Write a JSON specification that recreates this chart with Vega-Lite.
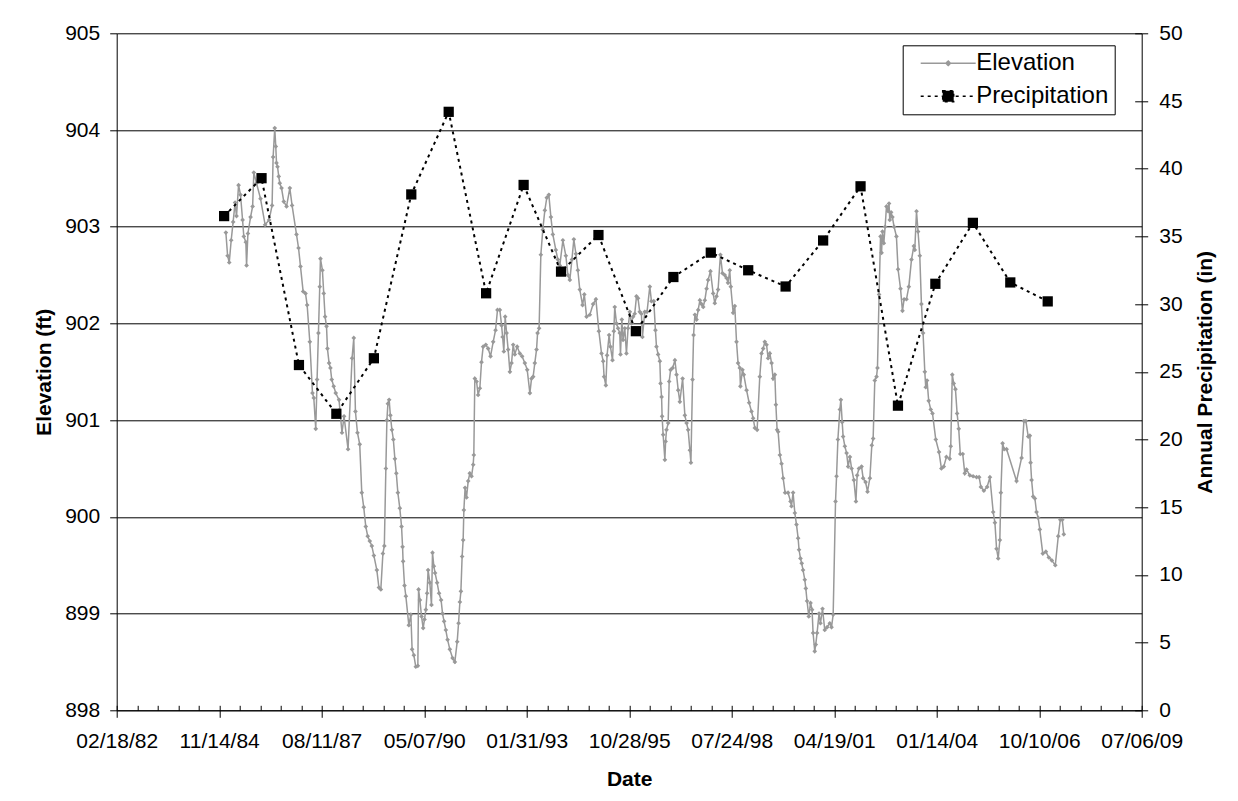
{
  "$schema": "https://vega.github.io/schema/vega-lite/v6.json",
  "width": 1025,
  "height": 677,
  "autosize": {"type": "none"},
  "padding": {"left": 116.7, "top": 33.3, "right": 96.3, "bottom": 90.7},
  "background": "white",
  "config": {
    "font": "Liberation Sans",
    "view": {"stroke": null},
    "axis": {
      "labelFont": "Liberation Sans", "titleFont": "Liberation Sans",
      "labelFontSize": 21, "titleFontSize": 21, "titleFontWeight": "bold",
      "labelColor": "black", "titleColor": "black",
      "domainColor": "black", "tickColor": "black", "gridColor": "black",
      "domainWidth": 1, "tickWidth": 1, "gridWidth": 1, "labelFlush": false, "labelOverlap": false
    }
  },
  "datasets": {
    "precip": [
      {"d":"1985-01-01","p":36.5},{"d":"1986-01-01","p":39.3},{"d":"1987-01-01","p":25.5},{"d":"1988-01-01","p":21.9},
      {"d":"1989-01-01","p":26.0},{"d":"1990-01-01","p":38.1},{"d":"1991-01-01","p":44.2},{"d":"1992-01-01","p":30.8},
      {"d":"1993-01-01","p":38.8},{"d":"1994-01-01","p":32.4},{"d":"1995-01-01","p":35.1},{"d":"1996-01-01","p":28.0},
      {"d":"1997-01-01","p":32.0},{"d":"1998-01-01","p":33.8},{"d":"1999-01-01","p":32.5},{"d":"2000-01-01","p":31.3},
      {"d":"2001-01-01","p":34.7},{"d":"2002-01-01","p":38.7},{"d":"2003-01-01","p":22.5},{"d":"2004-01-01","p":31.5},
      {"d":"2005-01-01","p":36.0},{"d":"2006-01-01","p":31.6},{"d":"2007-01-01","p":30.2}
    ],
    "elev": [
      {"d":"1985-01-18","e":902.94},{"d":"1985-02-04","e":902.70},{"d":"1985-02-20","e":902.63},{"d":"1985-03-11","e":902.86},
      {"d":"1985-03-30","e":903.05},{"d":"1985-04-18","e":903.25},{"d":"1985-05-02","e":903.11},{"d":"1985-05-22","e":903.43},
      {"d":"1985-06-10","e":903.33},{"d":"1985-06-30","e":903.07},{"d":"1985-07-12","e":902.90},{"d":"1985-08-01","e":902.84},
      {"d":"1985-08-08","e":902.60},{"d":"1985-08-21","e":902.93},{"d":"1985-09-16","e":903.10},{"d":"1985-10-06","e":903.21},
      {"d":"1985-10-18","e":903.56},{"d":"1985-11-13","e":903.45},{"d":"1985-12-22","e":903.29},{"d":"1986-02-05","e":903.02},
      {"d":"1986-03-16","e":903.07},{"d":"1986-04-14","e":903.22},{"d":"1986-04-24","e":903.72},{"d":"1986-05-10","e":904.02},
      {"d":"1986-05-20","e":903.83},{"d":"1986-05-27","e":903.66},{"d":"1986-06-06","e":903.62},{"d":"1986-06-18","e":903.52},
      {"d":"1986-06-28","e":903.45},{"d":"1986-07-15","e":903.40},{"d":"1986-08-06","e":903.26},{"d":"1986-09-02","e":903.21},
      {"d":"1986-10-04","e":903.40},{"d":"1986-10-26","e":903.22},{"d":"1986-12-08","e":902.92},{"d":"1986-12-28","e":902.78},
      {"d":"1987-01-16","e":902.59},{"d":"1987-02-11","e":902.33},{"d":"1987-03-06","e":902.31},{"d":"1987-03-22","e":902.19},
      {"d":"1987-04-17","e":901.81},{"d":"1987-05-13","e":901.28},{"d":"1987-05-26","e":901.23},{"d":"1987-06-14","e":900.91},
      {"d":"1987-06-27","e":901.42},{"d":"1987-07-10","e":901.90},{"d":"1987-07-23","e":902.38},{"d":"1987-07-30","e":902.67},
      {"d":"1987-08-18","e":902.55},{"d":"1987-08-31","e":902.31},{"d":"1987-09-13","e":902.07},{"d":"1987-09-27","e":901.97},
      {"d":"1987-10-06","e":901.74},{"d":"1987-10-22","e":901.59},{"d":"1987-11-04","e":901.54},{"d":"1987-11-17","e":901.42},
      {"d":"1987-12-06","e":901.35},{"d":"1987-12-26","e":901.28},{"d":"1988-01-27","e":901.21},{"d":"1988-02-25","e":900.87},
      {"d":"1988-03-16","e":901.04},{"d":"1988-04-24","e":900.70},{"d":"1988-06-02","e":901.64},{"d":"1988-06-19","e":901.85},
      {"d":"1988-07-05","e":901.09},{"d":"1988-07-25","e":900.87},{"d":"1988-08-16","e":900.75},{"d":"1988-09-05","e":900.25},
      {"d":"1988-09-24","e":900.10},{"d":"1988-10-14","e":899.90},{"d":"1988-11-02","e":899.80},{"d":"1988-11-22","e":899.75},
      {"d":"1988-12-12","e":899.70},{"d":"1989-01-01","e":899.60},{"d":"1989-01-30","e":899.45},{"d":"1989-02-19","e":899.27},
      {"d":"1989-03-10","e":899.25},{"d":"1989-03-30","e":899.62},{"d":"1989-04-13","e":899.70},{"d":"1989-04-28","e":900.50},
      {"d":"1989-05-08","e":901.00},{"d":"1989-05-18","e":901.17},{"d":"1989-05-30","e":901.21},{"d":"1989-06-11","e":901.05},
      {"d":"1989-06-26","e":900.90},{"d":"1989-07-10","e":900.80},{"d":"1989-07-25","e":900.60},{"d":"1989-08-08","e":900.45},
      {"d":"1989-08-23","e":900.25},{"d":"1989-09-11","e":900.09},{"d":"1989-09-28","e":899.90},{"d":"1989-10-08","e":899.69},
      {"d":"1989-10-13","e":899.54},{"d":"1989-10-27","e":899.29},{"d":"1989-11-09","e":899.18},{"d":"1989-12-08","e":898.88},
      {"d":"1989-12-28","e":898.99},{"d":"1990-01-09","e":898.63},{"d":"1990-01-26","e":898.57},{"d":"1990-02-14","e":898.45},
      {"d":"1990-03-06","e":898.46},{"d":"1990-03-13","e":899.25},{"d":"1990-03-26","e":899.14},{"d":"1990-04-11","e":898.97},
      {"d":"1990-04-27","e":898.85},{"d":"1990-05-10","e":898.94},{"d":"1990-05-23","e":899.04},{"d":"1990-06-04","e":899.21},
      {"d":"1990-06-14","e":899.45},{"d":"1990-07-01","e":899.32},{"d":"1990-07-17","e":899.09},{"d":"1990-07-27","e":899.63},
      {"d":"1990-08-09","e":899.49},{"d":"1990-08-21","e":899.42},{"d":"1990-09-10","e":899.32},{"d":"1990-09-29","e":899.21},
      {"d":"1990-10-19","e":899.14},{"d":"1990-11-02","e":899.00},{"d":"1990-11-17","e":898.92},{"d":"1990-12-04","e":898.83},
      {"d":"1990-12-21","e":898.73},{"d":"1991-01-12","e":898.63},{"d":"1991-02-08","e":898.54},{"d":"1991-03-02","e":898.50},
      {"d":"1991-03-25","e":898.71},{"d":"1991-04-07","e":898.90},{"d":"1991-04-20","e":899.12},{"d":"1991-04-30","e":899.23},
      {"d":"1991-05-12","e":899.59},{"d":"1991-05-22","e":899.76},{"d":"1991-05-29","e":900.07},{"d":"1991-06-10","e":900.30},
      {"d":"1991-06-24","e":900.20},{"d":"1991-07-10","e":900.37},{"d":"1991-07-26","e":900.45},{"d":"1991-08-12","e":900.42},
      {"d":"1991-08-28","e":900.54},{"d":"1991-09-03","e":900.64},{"d":"1991-09-13","e":901.43},{"d":"1991-09-30","e":901.40},
      {"d":"1991-10-15","e":901.26},{"d":"1991-11-01","e":901.33},{"d":"1991-11-17","e":901.60},{"d":"1991-12-03","e":901.76},
      {"d":"1991-12-29","e":901.78},{"d":"1992-01-21","e":901.74},{"d":"1992-02-13","e":901.66},{"d":"1992-03-10","e":901.81},
      {"d":"1992-04-02","e":901.93},{"d":"1992-04-21","e":902.14},{"d":"1992-05-14","e":902.14},{"d":"1992-05-31","e":901.98},
      {"d":"1992-06-10","e":901.86},{"d":"1992-06-22","e":901.71},{"d":"1992-07-05","e":902.07},{"d":"1992-07-19","e":901.90},
      {"d":"1992-08-03","e":901.73},{"d":"1992-08-20","e":901.50},{"d":"1992-09-05","e":901.59},{"d":"1992-09-21","e":901.78},
      {"d":"1992-10-07","e":901.68},{"d":"1992-10-30","e":901.76},{"d":"1992-11-25","e":901.69},{"d":"1992-12-17","e":901.66},
      {"d":"1993-01-13","e":901.59},{"d":"1993-02-05","e":901.52},{"d":"1993-03-03","e":901.28},{"d":"1993-03-19","e":901.43},
      {"d":"1993-04-04","e":901.45},{"d":"1993-04-20","e":901.59},{"d":"1993-05-07","e":901.73},{"d":"1993-05-17","e":901.90},
      {"d":"1993-06-01","e":901.95},{"d":"1993-06-18","e":902.71},{"d":"1993-07-07","e":902.97},{"d":"1993-07-27","e":903.17},
      {"d":"1993-08-15","e":903.30},{"d":"1993-09-04","e":903.33},{"d":"1993-09-24","e":903.10},{"d":"1993-10-13","e":902.92},
      {"d":"1993-11-11","e":902.76},{"d":"1993-12-01","e":902.66},{"d":"1993-12-20","e":902.60},{"d":"1994-01-19","e":902.86},
      {"d":"1994-02-17","e":902.70},{"d":"1994-03-09","e":902.50},{"d":"1994-03-28","e":902.45},{"d":"1994-04-17","e":902.66},
      {"d":"1994-05-06","e":902.87},{"d":"1994-05-26","e":902.72},{"d":"1994-06-14","e":902.55},{"d":"1994-07-03","e":902.35},
      {"d":"1994-07-30","e":902.19},{"d":"1994-08-16","e":902.30},{"d":"1994-09-07","e":902.07},{"d":"1994-10-09","e":902.09},
      {"d":"1994-11-10","e":902.20},{"d":"1994-12-07","e":902.25},{"d":"1995-01-05","e":901.92},{"d":"1995-01-31","e":901.69},
      {"d":"1995-02-16","e":901.61},{"d":"1995-02-25","e":901.45},{"d":"1995-03-14","e":901.36},{"d":"1995-03-26","e":901.67},
      {"d":"1995-04-15","e":901.88},{"d":"1995-04-28","e":901.76},{"d":"1995-05-18","e":901.62},{"d":"1995-05-31","e":901.92},
      {"d":"1995-06-09","e":902.17},{"d":"1995-06-26","e":902.00},{"d":"1995-07-11","e":901.95},{"d":"1995-07-28","e":901.90},
      {"d":"1995-08-04","e":901.68},{"d":"1995-08-17","e":902.04},{"d":"1995-08-29","e":901.83},{"d":"1995-09-15","e":901.95},
      {"d":"1995-10-01","e":901.69},{"d":"1995-10-17","e":901.95},{"d":"1995-11-03","e":902.12},{"d":"1995-11-19","e":902.00},
      {"d":"1995-12-05","e":902.07},{"d":"1995-12-21","e":902.10},{"d":"1996-01-07","e":902.28},{"d":"1996-01-22","e":902.26},
      {"d":"1996-02-08","e":902.12},{"d":"1996-02-24","e":902.10},{"d":"1996-03-05","e":901.86},{"d":"1996-03-28","e":902.12},
      {"d":"1996-04-19","e":902.12},{"d":"1996-05-16","e":902.38},{"d":"1996-06-01","e":902.23},{"d":"1996-06-24","e":902.23},
      {"d":"1996-07-10","e":901.93},{"d":"1996-07-20","e":901.76},{"d":"1996-08-05","e":901.68},{"d":"1996-08-22","e":901.61},
      {"d":"1996-08-29","e":901.38},{"d":"1996-09-08","e":901.24},{"d":"1996-09-13","e":901.04},{"d":"1996-09-23","e":900.85},
      {"d":"1996-10-10","e":900.59},{"d":"1996-10-17","e":900.78},{"d":"1996-10-26","e":900.90},{"d":"1996-11-11","e":900.97},
      {"d":"1996-11-21","e":901.40},{"d":"1996-12-05","e":901.52},{"d":"1996-12-25","e":901.54},{"d":"1997-01-16","e":901.62},
      {"d":"1997-02-01","e":901.47},{"d":"1997-02-17","e":901.31},{"d":"1997-03-05","e":901.19},{"d":"1997-04-01","e":901.43},
      {"d":"1997-04-23","e":901.05},{"d":"1997-05-10","e":900.97},{"d":"1997-05-25","e":900.90},{"d":"1997-06-11","e":900.69},
      {"d":"1997-06-21","e":900.56},{"d":"1997-07-07","e":901.42},{"d":"1997-07-17","e":901.88},{"d":"1997-07-30","e":902.09},
      {"d":"1997-08-15","e":902.04},{"d":"1997-08-31","e":902.14},{"d":"1997-09-17","e":902.24},{"d":"1997-10-03","e":902.20},
      {"d":"1997-10-19","e":902.17},{"d":"1997-11-04","e":902.24},{"d":"1997-11-21","e":902.36},{"d":"1997-12-06","e":902.45},
      {"d":"1997-12-29","e":902.54},{"d":"1998-01-24","e":902.31},{"d":"1998-02-09","e":902.21},{"d":"1998-02-26","e":902.28},
      {"d":"1998-03-13","e":902.35},{"d":"1998-04-05","e":902.71},{"d":"1998-04-25","e":902.52},{"d":"1998-05-17","e":902.50},
      {"d":"1998-06-03","e":902.47},{"d":"1998-06-18","e":902.42},{"d":"1998-07-05","e":902.55},{"d":"1998-07-15","e":902.38},
      {"d":"1998-08-07","e":902.11},{"d":"1998-08-23","e":902.18},{"d":"1998-09-09","e":901.81},{"d":"1998-09-24","e":901.59},
      {"d":"1998-10-11","e":901.54},{"d":"1998-10-17","e":901.35},{"d":"1998-11-06","e":901.52},{"d":"1998-11-19","e":901.47},
      {"d":"1998-12-16","e":901.31},{"d":"1999-01-10","e":901.18},{"d":"1999-02-02","e":901.09},{"d":"1999-02-18","e":901.02},
      {"d":"1999-03-07","e":900.92},{"d":"1999-03-29","e":900.90},{"d":"1999-04-24","e":901.45},{"d":"1999-05-11","e":901.69},
      {"d":"1999-05-27","e":901.74},{"d":"1999-06-12","e":901.81},{"d":"1999-06-29","e":901.78},{"d":"1999-07-14","e":901.64},
      {"d":"1999-07-31","e":901.69},{"d":"1999-08-17","e":901.59},{"d":"1999-09-01","e":901.43},{"d":"1999-09-18","e":901.47},
      {"d":"1999-09-28","e":901.16},{"d":"1999-10-10","e":900.90},{"d":"1999-10-20","e":900.88},{"d":"1999-11-06","e":900.64},
      {"d":"1999-11-22","e":900.55},{"d":"1999-12-08","e":900.40},{"d":"1999-12-27","e":900.25},{"d":"2000-01-25","e":900.25},
      {"d":"2000-02-18","e":900.16},{"d":"2000-02-27","e":900.11},{"d":"2000-03-14","e":900.25},{"d":"2000-03-31","e":900.04},
      {"d":"2000-04-16","e":899.92},{"d":"2000-05-02","e":899.78},{"d":"2000-05-11","e":899.66},{"d":"2000-05-25","e":899.57},
      {"d":"2000-06-06","e":899.52},{"d":"2000-06-19","e":899.45},{"d":"2000-07-06","e":899.35},{"d":"2000-07-16","e":899.26},
      {"d":"2000-07-28","e":899.13},{"d":"2000-08-14","e":898.97},{"d":"2000-08-31","e":899.11},{"d":"2000-09-15","e":899.04},
      {"d":"2000-09-25","e":898.80},{"d":"2000-10-11","e":898.61},{"d":"2000-10-21","e":898.68},{"d":"2000-11-03","e":898.80},
      {"d":"2000-11-22","e":899.00},{"d":"2000-12-06","e":898.90},{"d":"2000-12-26","e":899.05},{"d":"2001-01-17","e":898.83},
      {"d":"2001-02-09","e":898.86},{"d":"2001-03-07","e":898.90},{"d":"2001-03-24","e":898.86},{"d":"2001-04-09","e":898.99},
      {"d":"2001-05-02","e":900.16},{"d":"2001-05-12","e":900.42},{"d":"2001-05-25","e":900.80},{"d":"2001-06-13","e":901.11},
      {"d":"2001-06-23","e":901.21},{"d":"2001-07-06","e":900.98},{"d":"2001-07-15","e":900.83},{"d":"2001-08-01","e":900.73},
      {"d":"2001-08-18","e":900.66},{"d":"2001-09-02","e":900.52},{"d":"2001-09-19","e":900.62},{"d":"2001-10-06","e":900.50},
      {"d":"2001-10-28","e":900.38},{"d":"2001-11-17","e":900.16},{"d":"2001-11-29","e":900.43},{"d":"2001-12-16","e":900.50},
      {"d":"2002-01-11","e":900.52},{"d":"2002-01-26","e":900.40},{"d":"2002-02-19","e":900.36},{"d":"2002-03-10","e":900.26},
      {"d":"2002-04-02","e":900.40},{"d":"2002-04-21","e":900.74},{"d":"2002-05-04","e":900.81},{"d":"2002-05-20","e":901.41},
      {"d":"2002-06-06","e":901.45},{"d":"2002-06-15","e":901.54},{"d":"2002-07-01","e":902.30},{"d":"2002-07-15","e":902.90},
      {"d":"2002-07-25","e":902.73},{"d":"2002-08-03","e":902.95},{"d":"2002-08-16","e":902.83},{"d":"2002-08-29","e":903.00},
      {"d":"2002-09-11","e":903.21},{"d":"2002-09-27","e":903.16},{"d":"2002-10-06","e":903.24},{"d":"2002-10-13","e":903.07},
      {"d":"2002-10-26","e":903.15},{"d":"2002-11-08","e":903.10},{"d":"2002-11-24","e":903.00},{"d":"2002-12-17","e":902.90},
      {"d":"2003-01-02","e":902.56},{"d":"2003-01-26","e":902.36},{"d":"2003-02-14","e":902.13},{"d":"2003-03-02","e":902.25},
      {"d":"2003-03-25","e":902.25},{"d":"2003-04-17","e":902.38},{"d":"2003-05-13","e":902.66},{"d":"2003-06-05","e":902.80},
      {"d":"2003-06-14","e":902.76},{"d":"2003-07-01","e":903.16},{"d":"2003-07-16","e":902.95},{"d":"2003-08-02","e":902.70},
      {"d":"2003-08-18","e":902.20},{"d":"2003-09-03","e":901.90},{"d":"2003-09-20","e":901.50},{"d":"2003-09-29","e":901.34},
      {"d":"2003-10-12","e":901.41},{"d":"2003-10-28","e":901.20},{"d":"2003-11-17","e":901.11},{"d":"2003-12-04","e":901.07},
      {"d":"2004-01-05","e":900.80},{"d":"2004-02-06","e":900.67},{"d":"2004-02-29","e":900.50},{"d":"2004-03-23","e":900.52},
      {"d":"2004-04-18","e":900.62},{"d":"2004-05-20","e":900.60},{"d":"2004-05-30","e":900.73},{"d":"2004-06-14","e":901.47},
      {"d":"2004-06-28","e":901.38},{"d":"2004-07-15","e":901.32},{"d":"2004-07-31","e":901.07},{"d":"2004-08-16","e":900.91},
      {"d":"2004-08-31","e":900.65},{"d":"2004-09-24","e":900.65},{"d":"2004-10-14","e":900.45},{"d":"2004-10-31","e":900.49},
      {"d":"2004-12-02","e":900.43},{"d":"2005-01-03","e":900.42},{"d":"2005-02-06","e":900.41},{"d":"2005-03-03","e":900.41},
      {"d":"2005-03-20","e":900.31},{"d":"2005-04-18","e":900.27},{"d":"2005-05-20","e":900.31},{"d":"2005-06-16","e":900.41},
      {"d":"2005-07-18","e":900.05},{"d":"2005-08-04","e":899.94},{"d":"2005-08-20","e":899.67},{"d":"2005-09-05","e":899.57},
      {"d":"2005-09-21","e":899.76},{"d":"2005-10-01","e":900.25},{"d":"2005-10-18","e":900.76},{"d":"2005-11-02","e":900.70},
      {"d":"2005-11-26","e":900.70},{"d":"2006-03-03","e":900.37},{"d":"2006-04-21","e":900.61},{"d":"2006-05-14","e":900.99},
      {"d":"2006-06-02","e":900.99},{"d":"2006-06-25","e":900.83},{"d":"2006-07-11","e":900.84},{"d":"2006-07-18","e":900.56},
      {"d":"2006-07-28","e":900.38},{"d":"2006-08-12","e":900.21},{"d":"2006-08-29","e":900.19},{"d":"2006-09-14","e":900.05},
      {"d":"2006-09-30","e":899.99},{"d":"2006-10-16","e":899.87},{"d":"2006-11-14","e":899.62},{"d":"2006-12-14","e":899.64},
      {"d":"2007-01-12","e":899.58},{"d":"2007-02-10","e":899.55},{"d":"2007-03-16","e":899.50},{"d":"2007-04-14","e":899.80},
      {"d":"2007-05-04","e":899.97},{"d":"2007-05-23","e":899.97},{"d":"2007-06-07","e":899.82}
    ]
  },
  "layer": [
    {
      "data": {"name": "elev"},
      "mark": {"type": "line", "strokeWidth": 1.5, "point": {"filled": true, "shape": "diamond", "size": 22}},
      "encoding": {
        "x": {
          "field": "d", "type": "temporal",
          "scale": {"type": "utc", "nice": false, "domain": [{"year": 1982, "month": 2, "date": 18, "utc": true}, {"year": 2009, "month": 7, "date": 6, "utc": true}]},
          "axis": {
            "orient": "bottom", "title": "Date", "grid": false, "tickSize": 7, "labelPadding": 13, "titlePadding": 17,
            "labelExpr": "utcFormat(datum.value, '%m/%d/%y')",
            "values": [
              {"year": 1982, "month": 2, "date": 18, "utc": true}, {"year": 1984, "month": 11, "date": 14, "utc": true},
              {"year": 1987, "month": 8, "date": 11, "utc": true}, {"year": 1990, "month": 5, "date": 7, "utc": true},
              {"year": 1993, "month": 1, "date": 31, "utc": true}, {"year": 1995, "month": 10, "date": 28, "utc": true},
              {"year": 1998, "month": 7, "date": 24, "utc": true}, {"year": 2001, "month": 4, "date": 19, "utc": true},
              {"year": 2004, "month": 1, "date": 14, "utc": true}, {"year": 2006, "month": 10, "date": 10, "utc": true},
              {"year": 2009, "month": 7, "date": 6, "utc": true}
            ]
          }
        },
        "y": {
          "field": "e", "type": "quantitative",
          "scale": {"domain": [898, 905], "nice": false, "zero": false},
          "axis": {"orient": "left", "title": "Elevation (ft)", "values": [898, 899, 900, 901, 902, 903, 904, 905], "format": "d", "grid": true, "tickSize": 7, "labelPadding": 10, "titlePadding": 10}
        },
        "color": {
          "datum": "Elevation", "type": "nominal",
          "scale": {"domain": ["Elevation", "Precipitation"], "range": ["#999999", "#000000"]},
          "legend": {
            "orient": "none", "legendX": 786, "legendY": 12, "title": null,
            "strokeColor": "black", "fillColor": "white", "padding": 6, "cornerRadius": 0,
            "labelFont": "Liberation Sans", "labelFontSize": 24, "labelColor": "black", "labelLimit": 300,
            "symbolSize": 100, "symbolStrokeWidth": 1.5, "symbolOffset": 27.5, "labelOffset": 16, "rowPadding": 9,
            "encode": {
              "symbols": {
                "update": {
                  "shape": {"signal": "datum.value === 'Elevation' ? 'M-5.5,0H5.5M-0.45,0L0,-0.45L0.45,0L0,0.45Z' : 'M-5.5,0H5.5M-1.1,-1.1H1.1V1.1H-1.1Z'"},
                  "fill": {"signal": "datum.value === 'Elevation' ? '#999999' : '#000000'"},
                  "stroke": {"signal": "datum.value === 'Elevation' ? '#999999' : '#000000'"},
                  "strokeDash": {"signal": "datum.value === 'Elevation' ? [1, 0] : [3, 4]"},
                  "opacity": {"value": 1}
                }
              }
            }
          }
        }
      }
    },
    {
      "data": {"name": "precip"},
      "mark": {"type": "line", "strokeWidth": 2, "strokeDash": [3, 4]},
      "encoding": {
        "x": {
          "field": "d", "type": "temporal",
          "scale": {"type": "utc", "nice": false, "domain": [{"year": 1982, "month": 2, "date": 18, "utc": true}, {"year": 2009, "month": 7, "date": 6, "utc": true}]},
          "axis": {
            "orient": "bottom", "title": null, "labels": false, "domain": false, "grid": false, "tickSize": -5,
            "values": [
              {"year":1982,"month":2,"date":18,"utc":true},{"year":1982,"month":9,"date":6,"utc":true},{"year":1983,"month":3,"date":25,"utc":true},
              {"year":1983,"month":10,"date":11,"utc":true},{"year":1984,"month":4,"date":28,"utc":true},{"year":1984,"month":11,"date":14,"utc":true},
              {"year":1985,"month":6,"date":2,"utc":true},{"year":1985,"month":12,"date":19,"utc":true},{"year":1986,"month":7,"date":7,"utc":true},
              {"year":1987,"month":1,"date":23,"utc":true},{"year":1987,"month":8,"date":11,"utc":true},{"year":1988,"month":2,"date":27,"utc":true},
              {"year":1988,"month":9,"date":14,"utc":true},{"year":1989,"month":4,"date":2,"utc":true},{"year":1989,"month":10,"date":19,"utc":true},
              {"year":1990,"month":5,"date":7,"utc":true},{"year":1990,"month":11,"date":23,"utc":true},{"year":1991,"month":6,"date":11,"utc":true},
              {"year":1991,"month":12,"date":28,"utc":true},{"year":1992,"month":7,"date":15,"utc":true},{"year":1993,"month":1,"date":31,"utc":true},
              {"year":1993,"month":8,"date":19,"utc":true},{"year":1994,"month":3,"date":7,"utc":true},{"year":1994,"month":9,"date":23,"utc":true},
              {"year":1995,"month":4,"date":11,"utc":true},{"year":1995,"month":10,"date":28,"utc":true},{"year":1996,"month":5,"date":15,"utc":true},
              {"year":1996,"month":12,"date":1,"utc":true},{"year":1997,"month":6,"date":19,"utc":true},{"year":1998,"month":1,"date":5,"utc":true},
              {"year":1998,"month":7,"date":24,"utc":true},{"year":1999,"month":2,"date":9,"utc":true},{"year":1999,"month":8,"date":28,"utc":true},
              {"year":2000,"month":3,"date":15,"utc":true},{"year":2000,"month":10,"date":1,"utc":true},{"year":2001,"month":4,"date":19,"utc":true},
              {"year":2001,"month":11,"date":5,"utc":true},{"year":2002,"month":5,"date":24,"utc":true},{"year":2002,"month":12,"date":10,"utc":true},
              {"year":2003,"month":6,"date":28,"utc":true},{"year":2004,"month":1,"date":14,"utc":true},{"year":2004,"month":8,"date":1,"utc":true},
              {"year":2005,"month":2,"date":17,"utc":true},{"year":2005,"month":9,"date":5,"utc":true},{"year":2006,"month":3,"date":24,"utc":true},
              {"year":2006,"month":10,"date":10,"utc":true},{"year":2007,"month":4,"date":28,"utc":true},{"year":2007,"month":11,"date":14,"utc":true},
              {"year":2008,"month":6,"date":1,"utc":true},{"year":2008,"month":12,"date":18,"utc":true},{"year":2009,"month":7,"date":6,"utc":true}
            ]
          }
        },
        "y": {
          "field": "p", "type": "quantitative",
          "scale": {"domain": [0, 50], "nice": false},
          "axis": {"orient": "right", "title": "Annual Precipitation (in)", "titleAngle": 270, "titleBaseline": "top", "values": [0, 5, 10, 15, 20, 25, 30, 35, 40, 45, 50], "grid": false, "tickSize": 6, "labelPadding": 11, "titlePadding": 12}
        },
        "color": {"datum": "Precipitation", "type": "nominal"}
      }
    },
    {
      "data": {"name": "precip"},
      "mark": {"type": "point", "shape": "square", "size": 105, "filled": true, "color": "black", "opacity": 1},
      "encoding": {
        "x": {"field": "d", "type": "temporal", "axis": null,
          "scale": {"type": "utc", "nice": false, "domain": [{"year": 1982, "month": 2, "date": 18, "utc": true}, {"year": 2009, "month": 7, "date": 6, "utc": true}]}},
        "y": {
          "field": "p", "type": "quantitative",
          "scale": {"domain": [0, 50], "nice": false},
          "axis": {"orient": "right", "title": null, "labels": false, "domain": false, "grid": false, "tickSize": -7, "values": [0, 5, 10, 15, 20, 25, 30, 35, 40, 45, 50]}
        }
      }
    }
  ],
  "resolve": {"scale": {"y": "independent"}, "axis": {"y": "independent", "x": "independent"}}
}
